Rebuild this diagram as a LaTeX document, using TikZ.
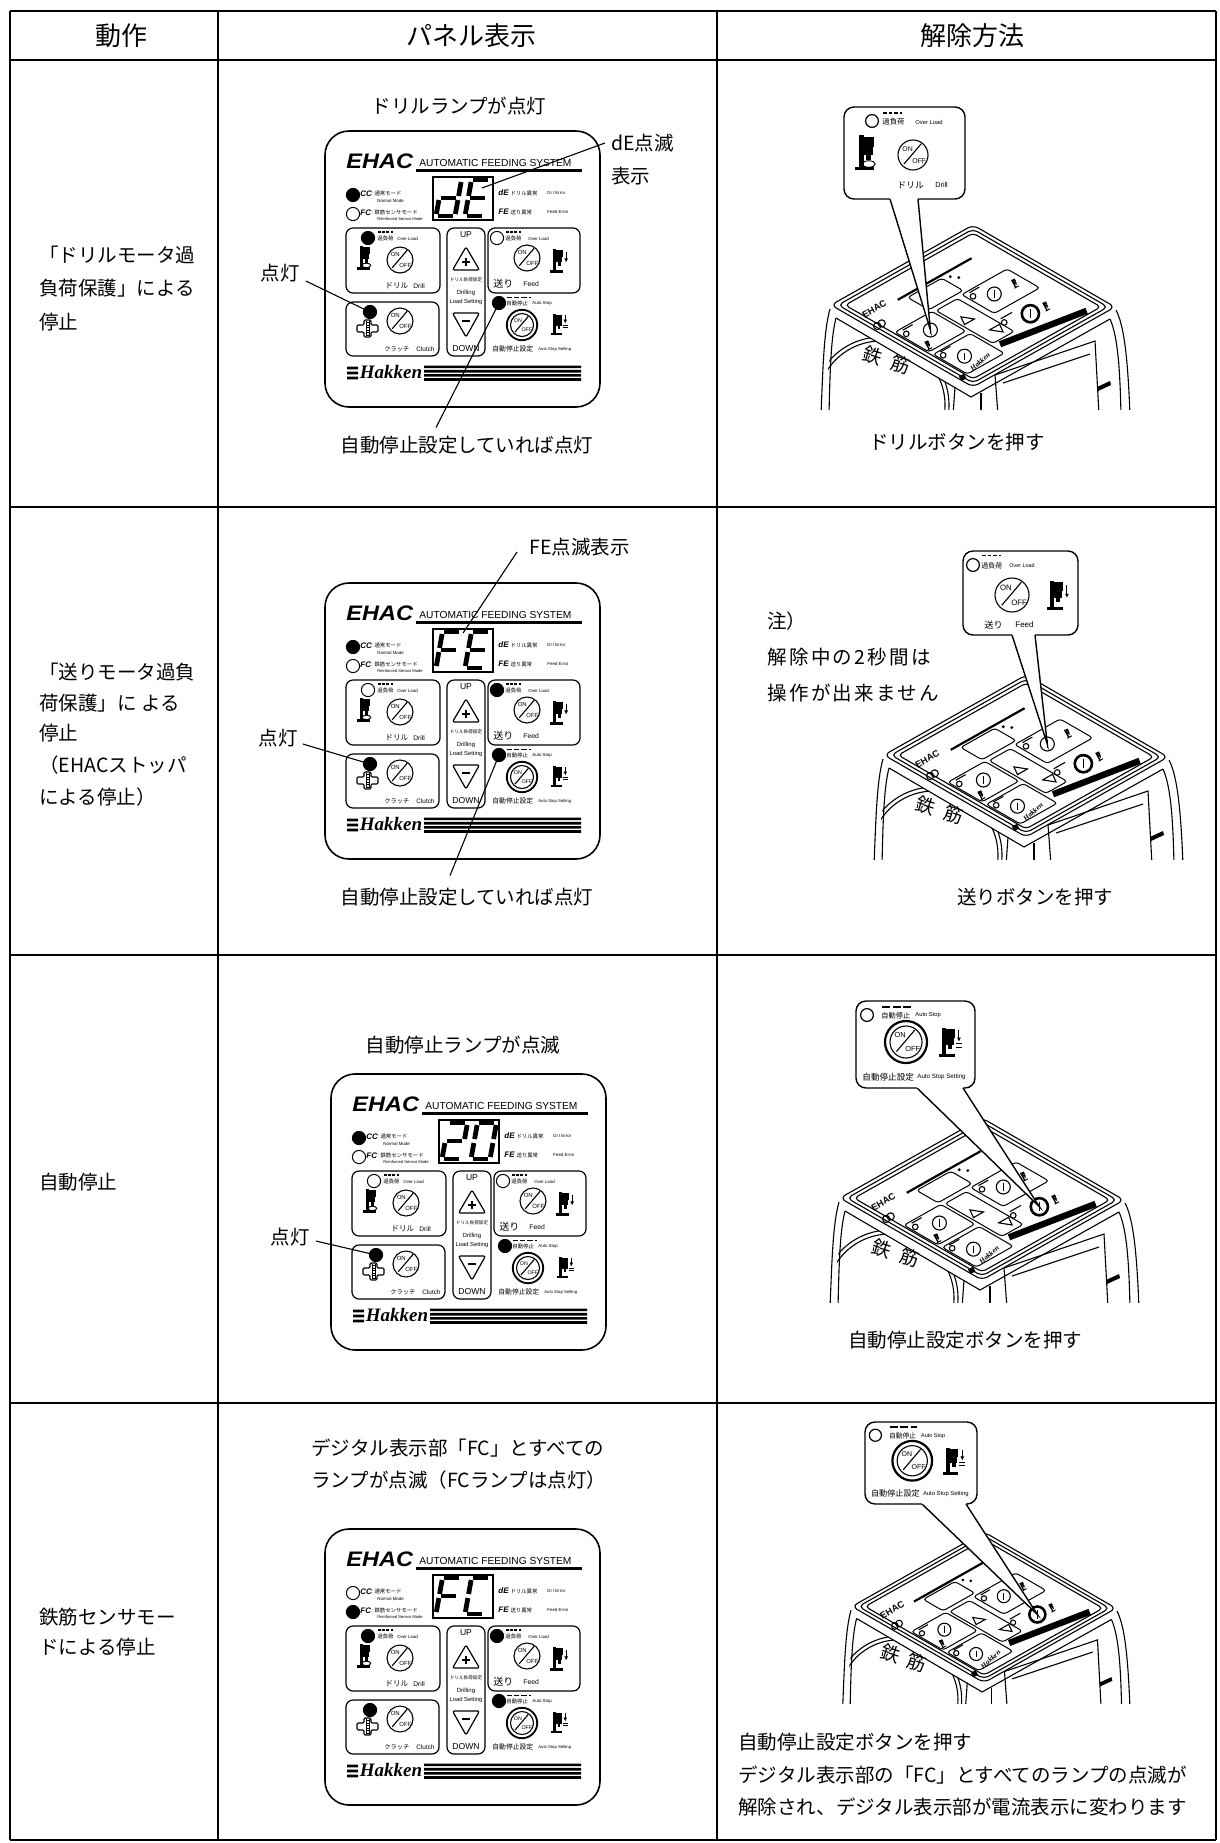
\documentclass[tikz,border=0pt]{standalone}
\usepackage{graphicx}
\usepackage{fontspec}
\setmainfont{Noto Sans CJK JP}
\newfontfamily\lsans{Liberation Sans}
\newfontfamily\lserif{Liberation Serif}
\usetikzlibrary{calc,arrows.meta}
\newcommand\FSz[1]{\fontsize{#1}{#1}\selectfont}

\tikzset{
  hl/.style={line width=1.15pt},
  vl/.style={line width=1pt},
  hdr/.style={inner sep=0pt, font=\FSz{13pt}},
  jp/.style={inner sep=0pt, font=\FSz{9.75pt}},
  jpw/.style={jp, anchor=west},
  ann/.style={line width=0.55pt},
  segline/.style={line width=2.4pt},
  bx/.style={line width=0.6pt, rounded corners=3.5pt},
  cci/.style={anchor=west, inner sep=0pt, font=\lsans\bfseries\itshape\FSz{4pt}},
  tnJ/.style={anchor=west, inner sep=0pt, font=\FSz{2.7pt}},
  tnE/.style={anchor=west, inner sep=0pt, font=\lsans\FSz{2.2pt}},
  mline/.style={line width=0.55pt},
  mbox/.style={line width=0.5pt, rounded corners=1.5pt},
  cline/.style={line width=0.7pt},
  lampo/.style={line width=0.5pt},
  logoch/.style={rotate=-18, inner sep=0pt, font=\FSz{9.5pt}},
}

% seven segment digits
\newcommand\SGa{\draw[segline] (2,-36) -- (17,-36);}
\newcommand\SGb{\draw[segline] (19,-34) -- (19,-20);}
\newcommand\SGc{\draw[segline] (19,-16) -- (19,-2);}
\newcommand\SGd{\draw[segline] (2,0) -- (17,0);}
\newcommand\SGe{\draw[segline] (0,-16) -- (0,-2);}
\newcommand\SGf{\draw[segline] (0,-34) -- (0,-20);}
\newcommand\SGg{\draw[segline] (2,-18) -- (17,-18);}
\newcommand\SevenSeg[2]{\begin{scope}[shift={(#1,85)}, xslant=0.18]\foreach \s in {#2}{\csname SG\s\endcsname}\end{scope}}

% icons
\newcommand\PressBody{%
  \fill (3,1) rectangle (7,27);
  \fill (6,2) rectangle (15,10);
  \fill (7,10.6) rectangle (14,17);
  \fill (9,17) rectangle (12.5,21);
  \fill (0,26) rectangle (15,29);
}
\newcommand\DrillIcon[2]{\begin{scope}[shift={#1}, scale=#2]\PressBody
  \draw[line width=0.45pt] (11,24) ellipse[x radius=2.6pt, y radius=1.3pt];\end{scope}}
\newcommand\FeedIcon[2]{\begin{scope}[shift={#1}, scale=#2]\PressBody
  \draw[line width=0.5pt, -{Latex[length=2pt, width=2pt]}] (19,5) -- (19,17);\end{scope}}
\newcommand\AutoIcon[2]{\begin{scope}[shift={#1}, scale=#2]\PressBody
  \draw[line width=0.5pt, -{Latex[length=2pt, width=2pt]}] (19,3) -- (19,14);
  \draw[line width=0.5pt] (16,16) -- (22,16) (16,19.5) -- (22,19.5);\end{scope}}
\newcommand\ClutchIcon[2]{\begin{scope}[shift={#1}, scale=#2]
  \draw[line width=0.55pt, rounded corners=0.6pt, fill=white] (7,0) -- (14,0) -- (14,5) -- (21,5) -- (21,12) -- (14,12) -- (14,17) -- (7,17) -- (7,12) -- (0,12) -- (0,5) -- (7,5) -- cycle;
  \draw[line width=0.45pt] (9,1) -- (9,16) (12,1) -- (12,16);
  \foreach \yy in {2.5,5,...,15} {\draw[line width=0.3pt] (9,\yy) -- (12,\yy);}
\end{scope}}
\newcommand\OnOff[2]{\begin{scope}[shift={#1}, scale=#2, transform shape]
  \draw[line width=0.55pt, fill=white] (0,0) circle[radius=5pt];
  \draw[line width=0.55pt] (-6,6) -- (5.5,-7.5);
  \node[inner sep=0pt, font=\lsans\FSz{2.3pt}] at (-3.6,-4.2) {ON};
  \node[inner sep=0pt, font=\lsans\FSz{2.3pt}] at (4.2,4.3) {OFF};
\end{scope}}

% control panel
\newcommand\EhacPanel[8]{%
\begin{scope}[shift={#2}]
 \draw[line width=0.8pt, rounded corners=12pt] (0,0) rectangle (275,276);
 \node[anchor=base west, inner sep=0pt, font=\lsans\bfseries\itshape\FSz{10.5pt}] (#1-ehac) at (21,37) {\scalebox{1.12}[1]{EHAC}};
 \node[anchor=base west, inner sep=0pt, font=\lsans\FSz{5.1pt}] (#1-afs) at (94,35.5) {AUTOMATIC FEEDING SYSTEM};
 \draw[line width=1.5pt] (91,39.5) -- (257,39.5);
 \draw[line width=0.6pt] (108,46) rectangle (168,89);
 \SevenSeg{111}{#3}%
 \SevenSeg{140}{#4}%
 \draw[lampo, fill=#5] (28,64) circle[radius=3.3pt];
 \draw[lampo, fill=#6] (28,83) circle[radius=3.3pt];
 \node[cci] at (35,63) {CC};
 \node[tnJ] at (46,62) {: 通常モード};
 \node[tnE] at (52,69.5) {Normal Mode};
 \node[cci] at (35,82) {FC};
 \node[tnJ] at (46,81) {: 鉄筋センサモード};
 \node[tnE, font=\lsans\FSz{2.05pt}] at (52,88.5) {Reinforced Sensor Mode};
 \node[cci] at (173,62) {dE};
 \node[tnJ] at (182,62) {: ドリル異常};
 \node[tnE] at (222,62) {Dr l Error};
 \node[cci] at (173,81) {FE};
 \node[tnJ] at (182,81) {: 送り異常};
 \node[tnE] at (222,81) {Feed Error};
 % drill box
 \draw[bx] (21,97) rectangle (115,162);
 \draw[lampo, fill=#7] (43,107) circle[radius=3.3pt];
 \draw[line width=0.7pt, dash pattern=on 1.4pt off 0.7pt] (53,101) -- (68,101);
 \node[tnJ] at (52,107.5) {過負荷};
 \node[tnE] at (72,107.5) {Over Load};
 \DrillIcon{(32,114)}{0.85}
 \OnOff{(75,129)}{1.3}
 \node[anchor=west, inner sep=0pt, font=\FSz{3.8pt}] at (60,155) {ドリル};
 \node[anchor=west, inner sep=0pt, font=\lsans\FSz{3.3pt}] at (88,155) {Drill};
 % up / down
 \draw[bx] (122,97) rectangle (160,225);
 \node[inner sep=0pt, font=\lsans\FSz{4.3pt}] at (141,104) {UP};
 \draw[line width=0.6pt, rounded corners=1pt] (141,116) -- (154.5,139) -- (127.5,139) -- cycle;
 \draw[line width=0.6pt] (137,131) -- (145,131) (141,127) -- (141,135);
 \node[inner sep=0pt, font=\FSz{2.3pt}] at (141,149) {ドリル負荷設定};
 \node[inner sep=0pt, font=\lsans\FSz{3pt}] at (141,161.5) {Drilling};
 \node[inner sep=0pt, font=\lsans\FSz{2.9pt}] at (141,170.5) {Load Setting};
 \draw[line width=0.6pt, rounded corners=1pt] (127.5,182) -- (154.5,182) -- (141,206) -- cycle;
 \draw[line width=0.6pt] (137,190) -- (145,190);
 \node[inner sep=0pt, font=\lsans\FSz{4.3pt}] at (141,218) {DOWN};
 % feed box
 \draw[bx] (163,97) rectangle (255,162);
 \draw[lampo, fill=#8] (172,107) circle[radius=3.3pt];
 \draw[line width=0.7pt, dash pattern=on 1.4pt off 0.7pt] (181,101) -- (196,101);
 \node[tnJ] at (180,107.5) {過負荷};
 \node[tnE] at (203,107.5) {Over Load};
 \OnOff{(202,127)}{1.3}
 \FeedIcon{(225,117)}{0.85}
 \node[anchor=west, inner sep=0pt, font=\FSz{5pt}] at (168,153) {送り};
 \node[anchor=west, inner sep=0pt, font=\lsans\FSz{3.4pt}] at (198,153) {Feed};
 % clutch box
 \draw[bx] (21,171) rectangle (114,225);
 \draw[lampo, fill=black] (45,181) circle[radius=3.3pt];
 \ClutchIcon{(32,189)}{1}
 \OnOff{(75,190)}{1.3}
 \node[anchor=west, inner sep=0pt, font=\FSz{3.1pt}] at (59,218) {クラッチ};
 \node[anchor=west, inner sep=0pt, font=\lsans\FSz{3.2pt}] at (91,218) {Clutch};
 % auto stop
 \draw[lampo, fill=black] (174,172) circle[radius=3.3pt];
 \draw[line width=0.8pt, dash pattern=on 2.6pt off 1pt] (182,166.5) -- (206,166.5);
 \node[tnJ] at (181,172.5) {自動停止};
 \node[tnE] at (207,172.5) {Auto Stop};
 \draw[line width=0.9pt] (197,194) circle[radius=7.6pt];
 \OnOff{(197,194)}{1.15}
 \AutoIcon{(226,182)}{0.75}
 \node[anchor=west, inner sep=0pt, font=\FSz{3.4pt}] at (167,218) {自動停止設定};
 \node[anchor=west, inner sep=0pt, font=\lsans\FSz{2.1pt}] at (213,218) {Auto Stop Setting};
 % Hakken bar
 \fill (22,235.5) rectangle (33,238.3) (22,240.5) rectangle (33,243.3) (22,245.5) rectangle (33,248.3);
 \node[inner sep=0pt, font=\lserif\bfseries\itshape\FSz{9.5pt}] (#1-hk) at (66,241) {Hakken};
 \fill (99,234.5) rectangle (256,237.2) (99,238.8) rectangle (256,241.5) (99,243) rectangle (256,245.7) (99,247.2) rectangle (256,249.9);
 \coordinate (#1-clutch) at (45,181);
 \coordinate (#1-auto) at (174,172);
 \coordinate (#1-d1) at (157,57);
 \coordinate (#1-d2) at (138,50);
\end{scope}}

% machine seen from above
\newcommand\SmallPress[1]{\begin{scope}[shift={#1}, x=0.5pt, y=-0.5pt, rotate=29.4, scale=0.33]\PressBody\end{scope}}
\newcommand\FaceButton[2]{%
  \draw[mline, fill=white] (#1) circle[radius=#2];
  \draw[mline] ([yshift=1.8pt]#1) -- ([yshift=-1.8pt]#1);}
\newcommand\Machine[3]{%
\begin{scope}[shift={#2}, scale=#3]
 \begin{scope}
  \clip (-175,-15) rectangle (175,184);
  \draw[mline] (-143,84) .. controls (-149,105) and (-150,140) .. (-152,190);
  \draw[mline] (-137,93) .. controls (-142,112) and (-143,145) .. (-144,190);
  \draw[mline] (143,85) .. controls (152,102) and (155,140) .. (157,190);
  \draw[mline] (137,94) .. controls (145,112) and (147,145) .. (148,190);
  \draw[mline] (-137,93) -- (-2,172) -- (137,94);
  \draw[mline] (-18,162) -- (-20,190);
  \draw[mline] (8,168) -- (8,190);
  \begin{scope}
   \clip (-152,190) -- (-137,93) -- (-2,172) -- (-2,190) -- cycle;
   \draw[mline] (-92,180) circle[radius=34pt];
   \draw[mline] (-92,180) circle[radius=32pt];
  \end{scope}
  \node[logoch] (#1-logoa) at (-100,131) {鉄};
  \node[logoch] (#1-logob) at (-72.5,140) {筋};
  \draw[mline] (22,150) -- (122,116) -- (126,190);
  \draw[mline] (22,150) -- (25,190);
  \draw[mline] (30,158) -- (117,129);
  \fill (124,162) -- (137,156) -- (138,160) -- (125,166) -- cycle;
  \begin{scope}[shift={(-142,80)}, x={(71pt,40pt)}, y={(71pt,-41pt)}]
   \draw[mline, fill=white, rounded corners=3pt] (0,0) -- (1,0) -- (1,1) -- (0,1) -- cycle;
   \draw[mline, rounded corners=2.5pt] (0.025,0.025) -- (0.975,0.025) -- (0.975,0.975) -- (0.025,0.975) -- cycle;
   \draw[mline, rounded corners=2pt] (0.05,0.05) -- (0.95,0.05) -- (0.95,0.95) -- (0.05,0.95) -- cycle;
   \draw[line width=1.1pt] (0.27,0.2) -- (0.79,0.2);
   \node[rotate=29.4, inner sep=0pt, font=\lsans\bfseries\FSz{4.6pt}] (#1-ehac) at (0.13,0.175) {EHAC};
   \draw[mline] (0.035,0.29) circle[radius=1.8pt];
   \draw[mline] (0.067,0.29) circle[radius=1.8pt];
   \draw[mbox] (0.32,0.22) -- (0.56,0.22) -- (0.56,0.37) -- (0.32,0.37) -- cycle;
   \fill (0.6,0.24) circle[radius=0.8pt] (0.625,0.275) circle[radius=0.8pt];
   % drill
   \draw[mbox] (0.06,0.39) -- (0.32,0.39) -- (0.32,0.63) -- (0.06,0.63) -- cycle;
   \draw[mline] (0.09,0.44) circle[radius=1.4pt];
   \draw[mline] (0.1,0.405) -- (0.17,0.405);
   \coordinate (#1-drill) at (0.2,0.5);
   \FaceButton{#1-drill}{3.5pt}
   \SmallPress{(0.1,0.55)}
   % up / down
   \draw[mbox] (0.34,0.40) -- (0.49,0.40) -- (0.49,0.80) -- (0.34,0.80) -- cycle;
   \draw[mline] (0.39,0.525) -- (0.425,0.585) -- (0.355,0.585) -- cycle;
   \draw[mline] (0.447,0.765) -- (0.412,0.705) -- (0.482,0.705) -- cycle;
   % feed
   \draw[mbox] (0.53,0.39) -- (0.85,0.39) -- (0.85,0.62) -- (0.53,0.62) -- cycle;
   \draw[mline] (0.56,0.44) circle[radius=1.4pt];
   \draw[mline] (0.57,0.405) -- (0.64,0.405);
   \coordinate (#1-feed) at (0.65,0.5);
   \FaceButton{#1-feed}{3.5pt}
   \SmallPress{(0.79,0.47)}
   % clutch
   \draw[mbox] (0.06,0.66) -- (0.32,0.66) -- (0.32,0.9) -- (0.06,0.9) -- cycle;
   \draw[mline] (0.09,0.70) circle[radius=1.4pt];
   \draw[mline] (0.1,0.67) -- (0.17,0.67);
   \coordinate (#1-clutch) at (0.16,0.78);
   \FaceButton{#1-clutch}{3.5pt}
   % auto stop
   \draw[mline] (0.51,0.71) circle[radius=1.4pt];
   \draw[mline] (0.52,0.675) -- (0.6,0.675);
   \coordinate (#1-auto) at (0.657,0.747);
   \draw[line width=1.3pt, fill=white] (#1-auto) circle[radius=4.3pt];
   \draw[line width=0.8pt] ([yshift=2.2pt]#1-auto) -- ([yshift=-2.2pt]#1-auto);
   \SmallPress{(0.76,0.72)}
   % bar and logo
   \draw[line width=3.2pt] (0.36,0.83) -- (0.875,0.925);
   \draw[line width=2.6pt] (0.005,0.905) -- (0.04,0.905);
   \node[rotate=42, inner sep=0pt, font=\lserif\bfseries\itshape\FSz{3.6pt}] (#1-hk) at (0.18,0.87) {Hakken};
  \end{scope}
 \end{scope}
\end{scope}}

% call-out frame: x1 y1 x2 y2 base1 base2 tip
\newcommand\CalloutFrame[7]{%
 \fill[white] (#5,#4) -- (#7) -- (#6,#4) -- cycle;
 \draw[cline] (#5,#4) -- (#7) -- (#6,#4);
 \draw[cline, fill=white, rounded corners=5pt] (#6,#4) -- (#3,#4) -- (#3,#2) -- (#1,#2) -- (#1,#4) -- (#5,#4);
}
\newcommand\DrillCallContent{%
 \draw[line width=0.6pt] (28,14) circle[radius=3.2pt];
 \draw[line width=0.9pt, dash pattern=on 1.8pt off 1pt] (39,6) -- (58,6);
 \node[anchor=west, inner sep=0pt, font=\FSz{3.7pt}] at (38,15) {過負荷};
 \node[anchor=west, inner sep=0pt, font=\lsans\FSz{2.9pt}] at (71,15) {Over Load};
 \DrillIcon{(11,27)}{1.25}
 \OnOff{(69,48)}{1.5}
 \node[anchor=west, inner sep=0pt, font=\FSz{4.4pt}] at (53,78) {ドリル};
 \node[anchor=west, inner sep=0pt, font=\lsans\FSz{3.6pt}] at (91,78) {Drill};
}
\newcommand\FeedCallContent{%
 \draw[line width=0.6pt] (10,14) circle[radius=3.2pt];
 \draw[line width=0.9pt, dash pattern=on 1.8pt off 1pt] (19,4.5) -- (38,4.5);
 \node[anchor=west, inner sep=0pt, font=\FSz{3.5pt}] at (18,15) {過負荷};
 \node[anchor=west, inner sep=0pt, font=\lsans\FSz{2.7pt}] at (46,15) {Over Load};
 \OnOff{(49,44)}{1.7}
 \FeedIcon{(84,29)}{1.05}
 \node[anchor=west, inner sep=0pt, font=\FSz{4.6pt}] at (21,74) {送り};
 \node[anchor=west, inner sep=0pt, font=\lsans\FSz{4pt}] at (52,74) {Feed};
}
\newcommand\AutoCallContent{%
 \draw[line width=0.6pt] (11,14) circle[radius=3.2pt];
 \draw[line width=1pt, dash pattern=on 4pt off 1.3pt] (26,5.5) -- (55,5.5);
 \node[anchor=west, inner sep=0pt, font=\FSz{3.6pt}] at (25,14.5) {自動停止};
 \node[anchor=west, inner sep=0pt, font=\lsans\FSz{2.9pt}] at (59,14.5) {Auto Stop};
 \draw[line width=1.1pt] (50,41) circle[radius=10.5pt];
 \OnOff{(50,41)}{1.6}
 \AutoIcon{(83,26)}{1.05}
 \node[anchor=west, inner sep=0pt, font=\FSz{4.3pt}] at (6,76) {自動停止設定};
 \node[anchor=west, inner sep=0pt, font=\lsans\FSz{3.1pt}] at (61,76) {Auto Stop Setting};
}

\begin{document}
\begin{tikzpicture}[x=0.5pt, y=-0.5pt]
\useasboundingbox (0,0) rectangle (1220,1843);
\fill[white] (0,0) rectangle (1220,1843);

% ---------- table ----------
\foreach \yy in {11,60,507,955,1403,1840} {\draw[hl] (10,\yy) -- (1216,\yy);}
\foreach \xx in {10,218,717,1216} {\draw[vl] (\xx,11) -- (\xx,1840);}
\node[hdr] (h1) at (121,36) {動作};
\node[hdr] (h2) at (471,36) {パネル表示};
\node[hdr] (h3) at (972,36) {解除方法};

% ---------- row 1 ----------
\node[jpw] (a1) at (39,255) {「ドリルモータ過};
\node[jpw] (a2) at (39,288) {負荷保護」による};
\node[jpw] (a3) at (39,322) {停止};
\node[jp] (r1t) at (459,106) {ドリルランプが点灯};
\EhacPanel{P1}{(325,131)}{b,c,d,e,g}{a,d,e,f,g}{black}{white}{black}{white}
\node[jpw] (r1de) at (611,143) {dE点滅};
\node[jpw] (r1de2) at (611,176) {表示};
\draw[ann] ([xshift=-3pt]r1de.west) -- (P1-d1);
\node[jp] (r1l) at (280,273) {点灯};
\draw[ann] ([xshift=3pt,yshift=-4pt]r1l.east) -- (P1-clutch);
\node[jp] (r1b) at (467,445) {自動停止設定していれば点灯};
\draw[ann] ([xshift=-15.5pt,yshift=4pt]r1b.north) -- (P1-auto);
\Machine{M1}{(973,225)}{1}
\CalloutFrame{844}{107}{965}{199}{890}{918}{M1-drill}
\begin{scope}[shift={(844,107)}]\DrillCallContent\end{scope}
\node[jp] (r1r) at (957,442) {ドリルボタンを押す};

% ---------- row 2 ----------
\node[jpw] (b1) at (39,672) {「送りモータ過負};
\node[jpw] (b2) at (39,703) {荷保護」に よる};
\node[jpw] (b3) at (39,733) {停止};
\node[jpw] (b4) at (39,765) {（EHACストッパ};
\node[jpw] (b5) at (39,797) {による停止）};
\node[jpw] (r2fe) at (529,547) {FE点滅表示};
\EhacPanel{P2}{(325,583)}{a,e,f,g}{a,d,e,f,g}{black}{white}{white}{black}
\draw[ann] ([xshift=-6pt,yshift=-2.5pt]r2fe.west) -- (P2-d2);
\node[jp] (r2l) at (278,738) {点灯};
\draw[ann] ([xshift=2.5pt,yshift=-3pt]r2l.east) -- (P2-clutch);
\node[jp] (r2b) at (467,897) {自動停止設定していれば点灯};
\draw[ann] ([xshift=-8.5pt,yshift=6pt]r2b.north) -- (P2-auto);
\Machine{M2}{(1026,675)}{1}
\CalloutFrame{963}{551}{1078}{635}{1012}{1035}{M2-feed}
\begin{scope}[shift={(963,551)}]\FeedCallContent\end{scope}
\node[jpw] (n1) at (767,621) {注）};
\node[jpw] (n2) at (767,657) {\addfontfeature{LetterSpace=12}解除中の2秒間は};
\node[jpw] (n3) at (767,693) {\addfontfeature{LetterSpace=12}操作が出来ません};
\node[jp] (r2r) at (1035,897) {送りボタンを押す};

% ---------- row 3 ----------
\node[jpw] (c1) at (39,1182) {自動停止};
\node[jp] (r3t) at (463,1045) {自動停止ランプが点滅};
\EhacPanel{P3}{(331,1074)}{a,b,g,e,d}{a,b,c,d,e,f}{black}{white}{white}{white}
\node[jp] (r3l) at (290,1237) {点灯};
\draw[ann] ([xshift=3pt,yshift=-2pt]r3l.east) -- (P3-clutch);
\Machine{M3}{(982,1118)}{1}
\CalloutFrame{856}{1001}{975}{1088}{917}{963}{M3-auto}
\begin{scope}[shift={(856,1001)}]\AutoCallContent\end{scope}
\node[jp] (r3r) at (965,1340) {自動停止設定ボタンを押す};

% ---------- row 4 ----------
\node[jpw] (d1) at (39,1617) {鉄筋センサモー};
\node[jpw] (d2) at (39,1647) {ドによる停止};
\node[jpw] (r4t1) at (311,1448) {デジタル表示部「FC」とすべての};
\node[jpw] (r4t2) at (311,1480) {ランプが点滅（FCランプは点灯）};
\EhacPanel{P4}{(325,1529)}{a,e,f,g}{a,d,e,f}{white}{black}{black}{black}
\Machine{M4}{(984,1532)}{0.93}
\CalloutFrame{865}{1422}{977}{1504}{922}{966}{M4-auto}
\begin{scope}[shift={(865,1422)}, scale=0.945, transform shape]\AutoCallContent\end{scope}
\node[jpw] (r4r1) at (738,1742) {自動停止設定ボタンを押す};
\node[jpw] (r4r2) at (738,1775) {デジタル表示部の「FC」とすべてのランプの点滅が};
\node[jpw] (r4r3) at (738,1807) {解除され、デジタル表示部が電流表示に変わります};
\end{tikzpicture}
\end{document}
